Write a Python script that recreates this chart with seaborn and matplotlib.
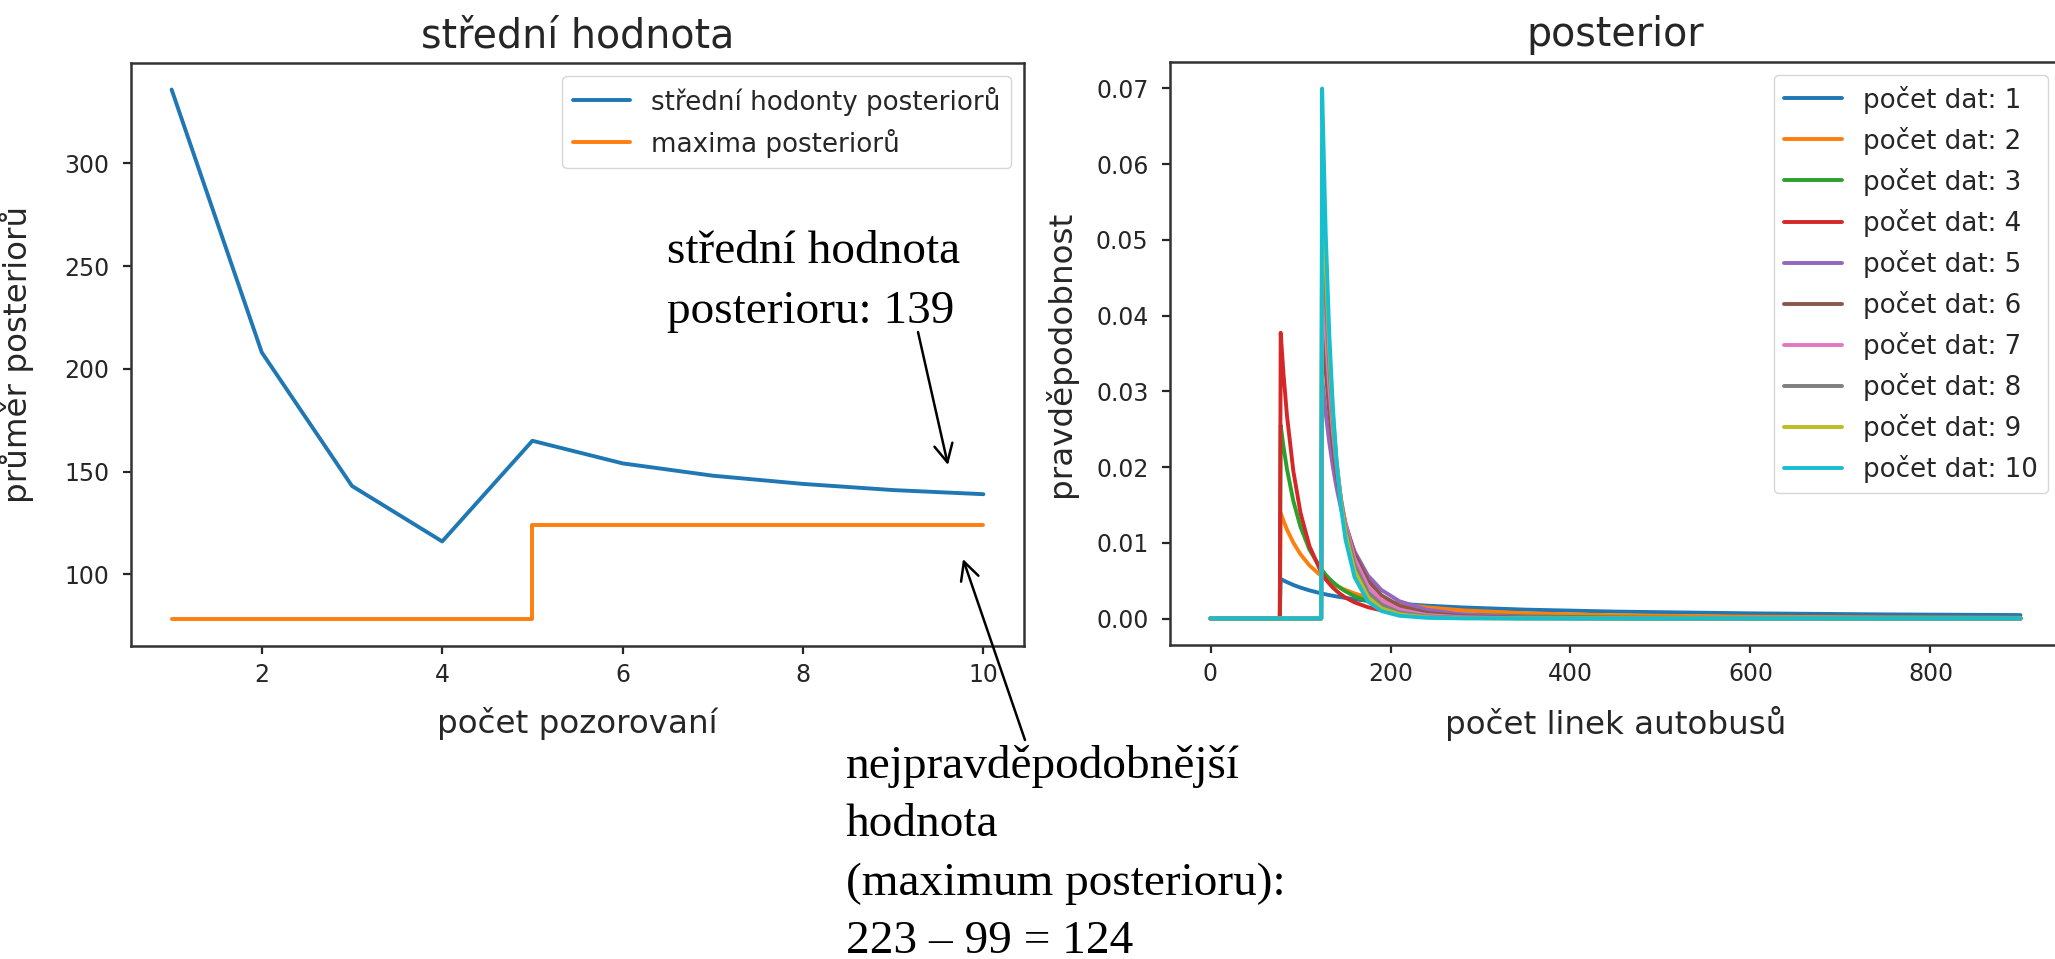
import numpy as np
import pandas as pd
import matplotlib
matplotlib.use("Agg")
import matplotlib.pyplot as plt
from matplotlib.patches import FancyArrowPatch
import seaborn as sns

# ---------------- data ----------------
obs_count = [1, 2, 3, 4, 5, 6, 7, 8, 9, 10]
mean_posterior = [336, 208, 143, 116, 165, 154, 148, 144, 141, 139]
max_posterior = [78, 78, 78, 78, 124, 124, 124, 124, 124, 124]

n_lines = [0, 77, 78, 81, 85, 92, 100, 110, 123, 124, 128, 132, 136, 140, 145,
           150, 160, 175, 190, 210, 240, 280, 350, 450, 600, 750, 900]

post_1 = [0, 0, 0.00523, 0.00503, 0.00480, 0.00443, 0.00408, 0.00371, 0.00332, 0.00329,
          0.00319, 0.00309, 0.00300, 0.00291, 0.00281, 0.00272, 0.00255, 0.00233, 0.00215,
          0.00194, 0.00170, 0.00146, 0.00117, 0.00091, 0.00068, 0.00054, 0.00045]
post_2 = [0, 0, 0.01394, 0.01293, 0.01174, 0.01002, 0.00848, 0.00701, 0.00561, 0.00552,
          0.00518, 0.00487, 0.00459, 0.00433, 0.00403, 0.00377, 0.00331, 0.00277, 0.00235,
          0.00192, 0.00147, 0.00108, 0.00069, 0.00042, 0.00024, 0.00015, 0.00010]
post_3 = [0, 0, 0.02550, 0.02277, 0.01971, 0.01554, 0.01210, 0.00909, 0.00650, 0.00635,
          0.00577, 0.00526, 0.00481, 0.00441, 0.00397, 0.00359, 0.00296, 0.00226, 0.00176,
          0.00131, 0.00088, 0.00055, 0.00028, 0.00013, 0.00006, 0.00003, 0.00002]
post_4 = [0, 0, 0.03773, 0.03244, 0.02675, 0.01949, 0.01396, 0.00954, 0.00610, 0.00591,
          0.00520, 0.00460, 0.00408, 0.00364, 0.00316, 0.00276, 0.00213, 0.00149, 0.00107,
          0.00072, 0.00042, 0.00023, 0.00009, 0.00003, 0.00001, 0, 0]
post_5 = [0, 0, 0, 0, 0, 0, 0, 0, 0,
          0.03174, 0.02708, 0.02322, 0.02000, 0.01730, 0.01452, 0.01225, 0.00887, 0.00567,
          0.00376, 0.00228, 0.00117, 0.00054, 0.00018, 0.00005, 0.00001, 0, 0]
post_6 = [0, 0, 0, 0, 0, 0, 0, 0, 0,
          0.03952, 0.03266, 0.02716, 0.02270, 0.01908, 0.01546, 0.01261, 0.00856, 0.00500,
          0.00305, 0.00168, 0.00075, 0.00030, 0.00008, 0.00002, 0, 0, 0]
post_7 = [0, 0, 0, 0, 0, 0, 0, 0, 0,
          0.04723, 0.03782, 0.03049, 0.02474, 0.02020, 0.01580, 0.01246, 0.00793, 0.00424,
          0.00238, 0.00118, 0.00046, 0.00016, 0.00003, 0.00001, 0, 0, 0]
post_8 = [0, 0, 0, 0, 0, 0, 0, 0, 0,
          0.05488, 0.04257, 0.03328, 0.02621, 0.02079, 0.01570, 0.01197, 0.00714, 0.00349,
          0.00181, 0.00081, 0.00028, 0.00008, 0.00001, 0, 0, 0, 0]
post_9 = [0, 0, 0, 0, 0, 0, 0, 0, 0,
          0.06247, 0.04694, 0.03558, 0.02720, 0.02095, 0.01528, 0.01126, 0.00630, 0.00281,
          0.00134, 0.00055, 0.00016, 0.00004, 0.00001, 0, 0, 0, 0]
post_10 = [0, 0, 0, 0, 0, 0, 0, 0, 0,
           0.06999, 0.05095, 0.03745, 0.02779, 0.02080, 0.01464, 0.01043, 0.00547, 0.00223,
           0.00098, 0.00036, 0.00009, 0.00002, 0, 0, 0, 0, 0]

series_labels = [f"počet dat: {i}" for i in range(1, 11)]
series_values = [post_1, post_2, post_3, post_4, post_5, post_6, post_7, post_8, post_9, post_10]

# ---------------- style ----------------
sns.set_style("ticks")
plt.rcParams.update({
    "font.family": ["DejaVu Sans"],
    "xtick.labelsize": 17,
    "ytick.labelsize": 17,
    "axes.labelsize": 23.4,
    "axes.titlesize": 28.5,
    "legend.fontsize": 18.8,
    "legend.handlelength": 2.2,
    "axes.edgecolor": "0.2",
    "axes.linewidth": 1.8,
    "xtick.major.size": 5.8,
    "ytick.major.size": 5.8,
    "xtick.major.width": 1.6,
    "ytick.major.width": 1.6,
    "xtick.major.pad": 6.5,
    "ytick.major.pad": 9.6,
    "xtick.color": "0.15",
    "ytick.color": "0.15",
    "axes.labelcolor": "0.15",
    "text.color": "0.15",
    "legend.frameon": True,
    "legend.framealpha": 0.8,
    "legend.edgecolor": "0.8",
    "legend.fancybox": True,
})

W, H = 2055, 959
fig = plt.figure(figsize=(W / 100, H / 100), dpi=100)
ax1 = fig.add_axes([131 / W, 1 - 646 / H, (1024 - 131) / W, (646 - 63) / H])
ax2 = fig.add_axes([1170 / W, 1 - 645 / H, (2061 - 1170) / W, (645 - 62) / H])

tab10 = sns.color_palette("tab10", 10)
LW = 2.8

# ---------------- left panel ----------------
sns.lineplot(x=obs_count, y=mean_posterior, ax=ax1, color=tab10[0], lw=LW,
             label="střední hodonty posteriorů")
sns.lineplot(x=obs_count, y=max_posterior, ax=ax1, color=tab10[1], lw=LW,
             drawstyle="steps-post", label="maxima posteriorů")
ax1.legend(loc="upper right")
ax1.set_title("střední hodnota", pad=11.5)
ax1.set_xlabel("počet pozorovaní")
ax1.set_ylabel("průměr posteriorů")
ax1.yaxis.set_label_coords((34 - 131) / 893, 0.5)
ax1.xaxis.set_label_coords(0.5, (646 - 707) / 583)

# ---------------- right panel ----------------
rows = []
for lab, vals in zip(series_labels, series_values):
    for xv, yv in zip(n_lines, vals):
        rows.append({"N": xv, "p": yv, "série": lab})
df = pd.DataFrame(rows)
sns.lineplot(data=df, x="N", y="p", hue="série", hue_order=series_labels,
             palette=tab10, lw=LW, estimator=None, sort=False, ax=ax2)
leg = ax2.get_legend()
handles = list(leg.legend_handles)
texts = [t.get_text() for t in leg.get_texts()]
ax2.legend(handles, texts, loc="upper right")
for h in ax2.get_legend().legend_handles:
    h.set_linewidth(LW)
ax2.set_title("posterior", pad=11.5)
ax2.set_xlabel("počet linek autobusů")
ax2.set_ylabel("pravděpodobnost")
ax2.yaxis.set_label_coords((1077 - 1170) / 891, 0.5)
ax2.xaxis.set_label_coords(0.5, (645 - 706) / 583)

for ax in (ax1, ax2):
    for s in ax.spines.values():
        s.set_visible(True)

# ---------------- annotations ----------------
def fp(x, y):
    return (x / W, 1 - y / H)

# multi-line text with va="baseline" is anchored at the baseline of its last line
fig.text(*fp(667, 323), "střední hodnota\nposterioru: 139", family="Liberation Serif",
         fontsize=34, color="black", va="baseline", ha="left", linespacing=1.55)
fig.text(*fp(846, 953), "nejpravděpodobnější\nhodnota\n(maximum posterioru):\n223 – 99 = 124",
         family="Liberation Serif", fontsize=34, color="black", va="baseline", ha="left",
         linespacing=1.49)

for tail, tip in [((918, 332), (948, 465)), ((1025, 740), (963, 559))]:
    arr = FancyArrowPatch(fp(*tail), fp(*tip), transform=fig.transFigure,
                          arrowstyle="->,head_length=0.65,head_width=0.33",
                          mutation_scale=20, lw=1.8, color="black",
                          shrinkA=0, shrinkB=0)
    fig.add_artist(arr)

fig.savefig("out.png", dpi=100)
